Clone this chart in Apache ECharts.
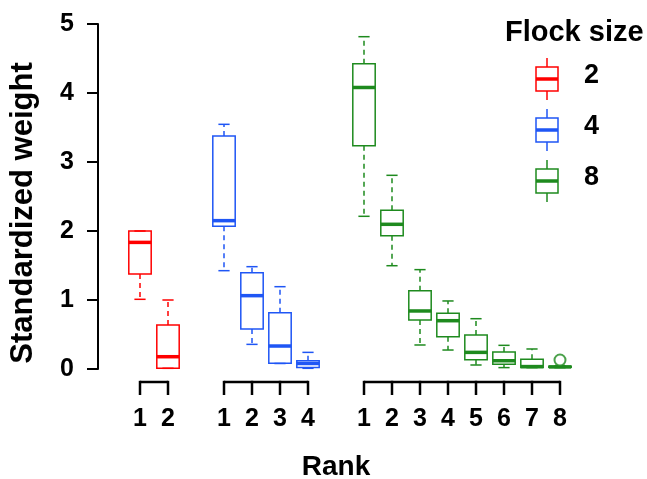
<!DOCTYPE html>
<html>
<head>
<meta charset="utf-8">
<script src="https://cdn.jsdelivr.net/npm/echarts@6/dist/echarts.min.js"></script>
<style>html,body{margin:0;padding:0;background:#fff}#c{width:647px;height:479px}</style>
</head>
<body>
<div id="c"></div>
<script>
// ---- data ----
const flockSizes = ['2', '4', '8'];
const flockColors = ['#FF0000', '#1F56F5', '#1E8A1E'];
// x slot labels (category axis): gaps between flock groups
const rankLabels = ['', '1', '2', '', '1', '2', '3', '4', '', '1', '2', '3', '4', '5', '6', '7', '8', ''];
const yTicks = [0, 1, 2, 3, 4, 5];
// slot positions of each flock group's ranks
const flock2Pos = [1, 2];
const flock4Pos = [4, 5, 6, 7];
const flock8Pos = [9, 10, 11, 12, 13, 14, 15, 16];
// boxplot stats: [lower whisker, Q1, median, Q3, upper whisker]
const flock2Stats = [
  [1.01, 1.377, 1.835, 2.00, 2.00],
  [0.01, 0.01, 0.178, 0.638, 1.00]
];
const flock4Stats = [
  [1.425, 2.07, 2.15, 3.377, 3.546],
  [0.357, 0.58, 1.063, 1.396, 1.483],
  [0.08, 0.082, 0.333, 0.816, 1.193],
  [0.01, 0.02, 0.08, 0.12, 0.241]
];
const flock8Stats = [
  [2.213, 3.237, 4.08, 4.425, 4.816],
  [1.497, 1.932, 2.097, 2.30, 2.807],
  [0.348, 0.71, 0.841, 1.135, 1.44],
  [0.275, 0.469, 0.70, 0.807, 0.986],
  [0.058, 0.135, 0.241, 0.493, 0.729],
  [0.02, 0.068, 0.12, 0.246, 0.343],
  [0.02, 0.02, 0.035, 0.14, 0.29],
  [0.02, 0.025, 0.03, 0.04, 0.045]
];
const flock8Outliers = [[16, 0.13]];
// axis bracket groups [first slot, last slot]
const groupRanges = [[1, 2], [4, 7], [9, 16]];

const FONT = "'Liberation Sans', Arial, Helvetica, sans-serif";

function makeBoxRender(color) {
  return function (params, api) {
    const x = api.value(0);
    const lo = api.coord([x, api.value(1)]);
    const q1 = api.coord([x, api.value(2)]);
    const md = api.coord([x, api.value(3)]);
    const q3 = api.coord([x, api.value(4)]);
    const hi = api.coord([x, api.value(5)]);
    const bw = api.size([1, 0])[0] * 0.8;
    const cx = lo[0];
    const h = bw / 2, c = bw / 4;
    const lw = 1.5;
    const solid = { stroke: color, lineWidth: lw, fill: null };
    const dashed = { stroke: color, lineWidth: lw, lineDash: [5, 4], fill: null };
    return {
      type: 'group',
      children: [
        { type: 'line', shape: { x1: cx, y1: q3[1], x2: cx, y2: hi[1] }, style: dashed },
        { type: 'line', shape: { x1: cx, y1: q1[1], x2: cx, y2: lo[1] }, style: dashed },
        { type: 'line', shape: { x1: cx - c, y1: hi[1], x2: cx + c, y2: hi[1] }, style: solid },
        { type: 'line', shape: { x1: cx - c, y1: lo[1], x2: cx + c, y2: lo[1] }, style: solid },
        { type: 'rect', shape: { x: cx - h, y: q3[1], width: bw, height: q1[1] - q3[1] }, style: { stroke: color, lineWidth: lw, fill: 'rgba(255,255,255,0)' } },
        { type: 'line', shape: { x1: cx - h, y1: md[1], x2: cx + h, y2: md[1] }, style: { stroke: color, lineWidth: 3.5 } }
      ]
    };
  };
}

function boxData(pos, stats) {
  return pos.map((p, i) => [p].concat(stats[i]));
}

const groups = [
  { pos: flock2Pos, stats: flock2Stats },
  { pos: flock4Pos, stats: flock4Stats },
  { pos: flock8Pos, stats: flock8Stats }
];

const series = groups.map((g, i) => ({
  type: 'custom',
  name: flockSizes[i],
  renderItem: makeBoxRender(flockColors[i]),
  encode: { x: 0, y: [1, 2, 3, 4, 5] },
  data: boxData(g.pos, g.stats),
  clip: false,
  silent: true
}));

series.push({
  type: 'scatter',
  data: flock8Outliers,
  symbol: 'emptyCircle',
  symbolSize: 11,
  itemStyle: { color: flockColors[2], borderColor: flockColors[2], borderWidth: 1.5 },
  silent: true
});

series.push({
  type: 'custom',
  renderItem: function (params, api) {
    const s = api.value(0), e = api.value(2);
    const p0 = api.coord([s, 0]);
    const p1 = api.coord([e, 0]);
    const y = p0[1] + 13;
    const st = { stroke: '#000', lineWidth: 2.5 };
    const children = [{ type: 'line', shape: { x1: p0[0], y1: y, x2: p1[0], y2: y }, style: st }];
    for (let k = s; k <= e; k++) {
      const px = api.coord([k, 0])[0];
      children.push({ type: 'line', shape: { x1: px, y1: y - 1.2, x2: px, y2: y + 13 }, style: st });
    }
    return { type: 'group', children };
  },
  encode: { x: 0, y: 1 },
  data: groupRanges.map(r => [r[0], 0, r[1]]),
  clip: false,
  silent: true
});

// legend graphic (icons)
const legendGraphics = [{
  type: 'text', left: 505, top: 18,
  style: { text: 'Flock size', font: 'bold 29px ' + FONT, fill: '#000' }
}];
flockColors.forEach((col, i) => {
  const oy = i * 51;
  const cx = 547;
  legendGraphics.push(
    { type: 'line', shape: { x1: cx, y1: 58 + oy, x2: cx, y2: 67 + oy }, style: { stroke: col, lineWidth: 1.5 } },
    { type: 'line', shape: { x1: cx, y1: 91 + oy, x2: cx, y2: 100 + oy }, style: { stroke: col, lineWidth: 1.5 } },
    { type: 'rect', shape: { x: 536, y: 67 + oy, width: 22, height: 24 }, style: { stroke: col, lineWidth: 1.5, fill: 'rgba(255,255,255,0)' } },
    { type: 'line', shape: { x1: 536, y1: 79 + oy, x2: 558, y2: 79 + oy }, style: { stroke: col, lineWidth: 3.5 } },
    { type: 'text', x: 584, y: 76 + oy, style: { text: flockSizes[i], font: 'bold 27px ' + FONT, fill: '#000', textVerticalAlign: 'middle', verticalAlign: 'middle' } }
  );
});
legendGraphics.push(
  { type: 'text', x: 336, y: 467, style: { text: 'Rank', font: 'bold 28px ' + FONT, fill: '#000', align: 'center', verticalAlign: 'middle', textAlign: 'center', textVerticalAlign: 'middle' } },
  { type: 'text', x: 23, y: 213, rotation: Math.PI / 2, style: { text: 'Standardized weight', font: 'bold 31px ' + FONT, fill: '#000', align: 'center', verticalAlign: 'middle', textAlign: 'center', textVerticalAlign: 'middle' } }
);

const chart = echarts.init(document.getElementById('c'), null, { renderer: 'canvas' });
chart.setOption({
  animation: false,
  backgroundColor: '#fff',
  grid: { left: 98, top: 24, width: 504, bottom: 110 },
  xAxis: {
    type: 'category',
    data: rankLabels,
    boundaryGap: true,
    axisLine: { show: false },
    axisTick: { show: false },
    splitLine: { show: false },
    axisLabel: { interval: 0, margin: 38, color: '#000', fontWeight: 'bold', fontSize: 25, fontFamily: FONT }
  },
  yAxis: {
    type: 'value',
    min: yTicks[0],
    max: yTicks[yTicks.length - 1],
    interval: 1,
    axisLine: { show: true, lineStyle: { color: '#000', width: 2 } },
    axisTick: { show: true, length: 11, lineStyle: { color: '#000', width: 2 } },
    splitLine: { show: false },
    axisLabel: { margin: 24, color: '#000', fontWeight: 'bold', fontSize: 25, fontFamily: FONT }
  },
  graphic: legendGraphics,
  series: series
});
</script>
</body>
</html>
